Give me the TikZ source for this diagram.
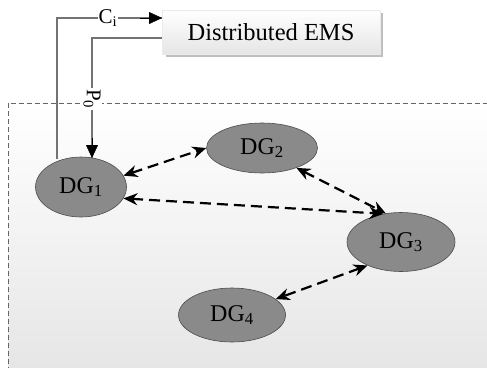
\documentclass[tikz,border=0pt]{standalone}
\usepackage{fontspec}
\setmainfont{Liberation Serif}
\usetikzlibrary{arrows.meta,shadows,shapes.geometric}
\begin{document}
\begin{tikzpicture}[x=1pt,y=-1pt,
  dg/.style={ellipse,draw=black!70,line width=0.6pt,fill=black!46,inner sep=0pt,font=\fontsize{24}{24}\selectfont},
  link/.style={line width=2.2pt,dash pattern=on 11pt off 6pt,{Stealth[length=14pt,width=12pt]}-{Stealth[length=14pt,width=12pt]}},
  feed/.style={draw=black!55,line width=1.3pt},
  tip/.style={-{Triangle[length=13pt,width=12pt]}},
  lbl/.style={fill=white,inner sep=1pt,font=\fontsize{21}{21}\selectfont}]
\useasboundingbox (0,0) rectangle (487,367);
\clip (0,0) rectangle (487,367);
\fill[white] (0,0) rectangle (487,367);
\shade[top color=white,bottom color=black!10] (8,103) rectangle (492,372);
\draw[black!60,line width=0.7pt,dash pattern=on 5pt off 3pt] (8,372) -- (8,103) -- (492,103);
% EMS
\fill[black!25] (166,13) rectangle (383,57);
\node[minimum width=218pt,minimum height=44pt,inner sep=0pt,top color=white,bottom color=black!10,draw=black!8,font=\fontsize{24.5}{24.5}\selectfont] (ems) at (271,32) {Distributed EMS};
% DG nodes
\node[dg,minimum width=91pt,minimum height=60pt] (dg1) at (81,187) {DG\textsubscript{1}};
\node[dg,minimum width=111pt,minimum height=50pt] (dg2) at (262,148) {DG\textsubscript{2}};
\node[dg,minimum width=108pt,minimum height=59pt] (dg3) at (401,242) {DG\textsubscript{3}};
\node[dg,minimum width=107pt,minimum height=54pt] (dg4) at (232,315) {DG\textsubscript{4}};
% feedback lines
\coordinate (ci0) at (57,159);
\coordinate (ci1) at (162,18);
\coordinate (p0s) at (ems.west |- 0,38);
\coordinate (p0e) at (92,158);
\draw[feed] (ci0) |- (ci1);
\draw[black,tip] (140,18) -- (ci1);
\node[lbl] (ci) at (108,18) {C\textsubscript{i}};
\draw[feed] (p0s) -| (p0e);
\draw[black,tip] (92,138) -- (p0e);
\node[lbl,rotate=-90] (p0) at (92,99) {P\textsubscript{0}};
% links
\draw[link] (dg1.15) -- (dg2.west);
\draw[link] (dg1.-15) -- (dg3.122);
\draw[link] (dg2.-30) -- (dg3.118);
\draw[link] (dg3.-145) -- (dg4.20);
\end{tikzpicture}
\end{document}
